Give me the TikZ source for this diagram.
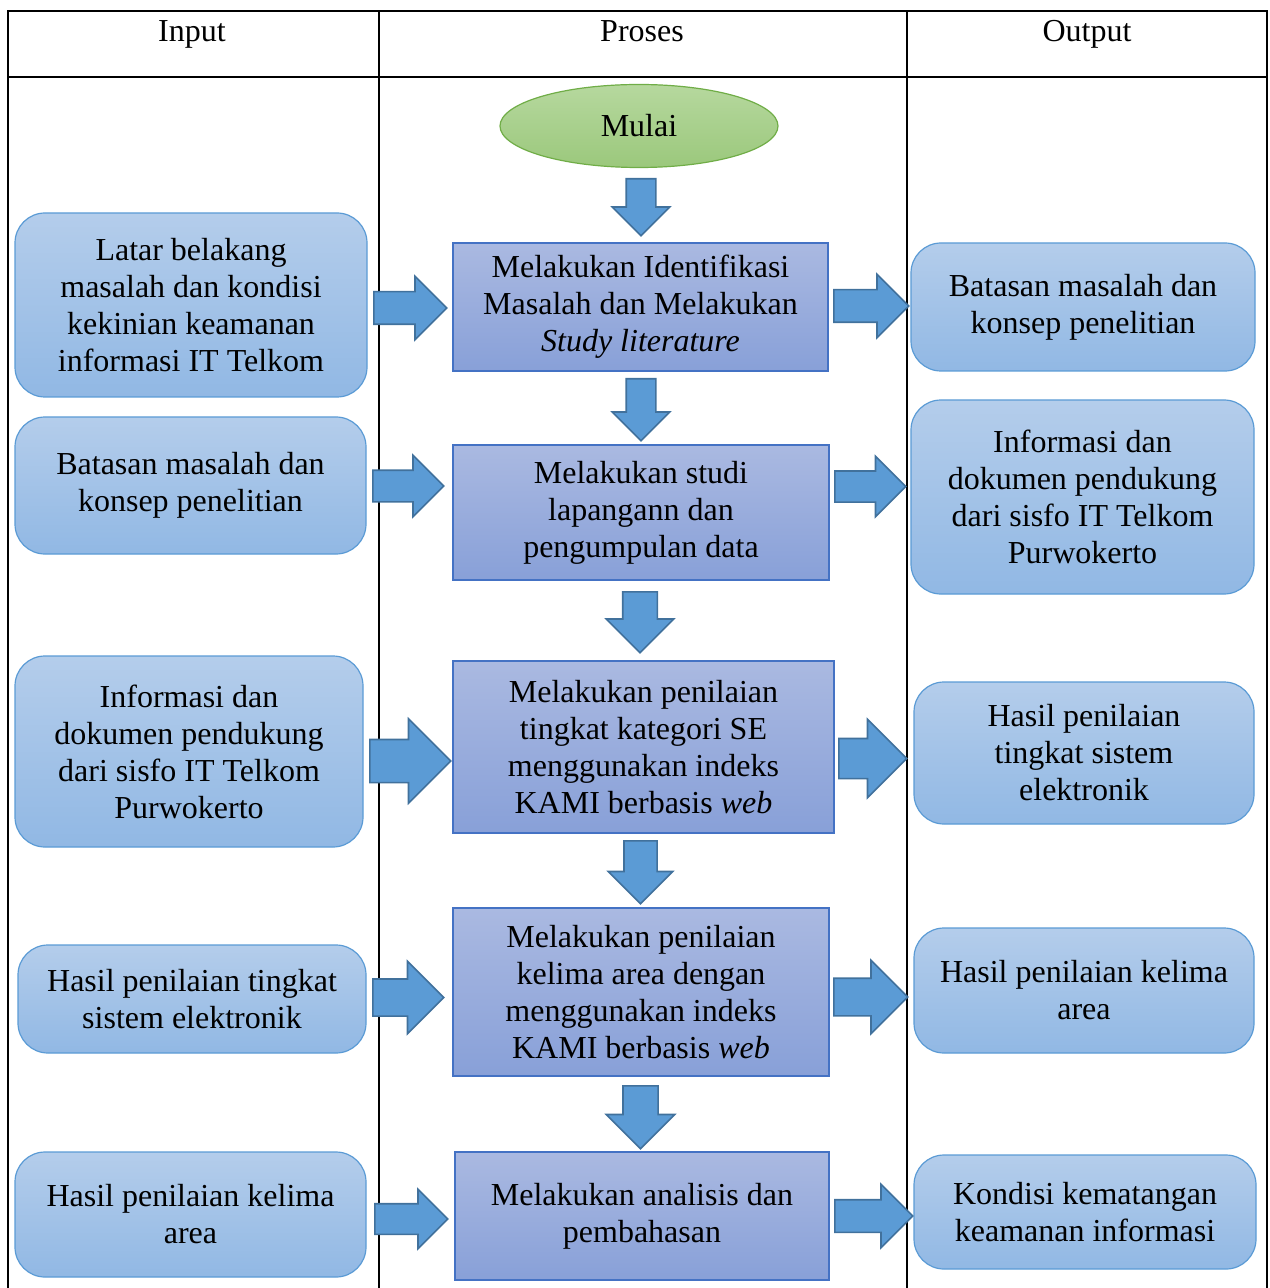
\documentclass[tikz,border=0pt]{standalone}
\usepackage{fontspec}
\setmainfont{Liberation Serif}
\usetikzlibrary{shapes.geometric,shapes.arrows}
\definecolor{procTop}{RGB}{170,185,225}
\definecolor{procBot}{RGB}{136,160,216}
\definecolor{procLine}{RGB}{68,114,196}
\definecolor{boxTop}{RGB}{180,205,235}
\definecolor{boxBot}{RGB}{145,184,228}
\definecolor{boxLine}{RGB}{91,155,213}
\definecolor{arrFill}{RGB}{91,155,213}
\definecolor{arrLine}{RGB}{65,113,156}
\definecolor{startTop}{RGB}{182,216,158}
\definecolor{startBot}{RGB}{155,200,124}
\definecolor{startLine}{RGB}{112,173,71}
\tikzset{
  sz/.style 2 args={minimum width=#1*0.5pt,minimum height=#2*0.5pt},
  proc/.style={draw=procLine,line width=0.6pt,top color=procTop,bottom color=procBot,
    align=center,inner sep=0pt},
  iobox/.style={draw=boxLine,line width=0.6pt,top color=boxTop,bottom color=boxBot,
    rounded corners=15pt,align=center,inner sep=0pt},
  blk/.style 2 args={single arrow,draw=arrLine,fill=arrFill,line width=0.8pt,
    inner xsep=0pt,inner ysep=#2*0.125pt,anchor=tail,
    minimum height=#1*0.5pt,minimum width=#2*0.5pt,single arrow head extend=#2*0.125pt},
  head/.style={inner sep=0pt,anchor=base}
}
\begin{document}
\begin{tikzpicture}[x=0.5pt,y=-0.5pt,font=\fontsize{16}{18.5}\selectfont]
\useasboundingbox (0,0) rectangle (1269,1288);
%
% --- Tabelle ---
\draw[line width=1pt] (8,1288) -- (8,11) -- (1267,11) -- (1267,1288);
\draw[line width=1pt] (8,77) -- (1267,77);
\draw[line width=1pt] (379,11) -- (379,1288);
\draw[line width=1pt] (907,11) -- (907,1288);
\node[head] (hIn)  at (192,42)  {Input};
\node[head] (hPro) at (642,42)  {Proses};
\node[head] (hOut) at (1087,42) {Output};
%
% --- Proses ---
\node[ellipse,draw=startLine,line width=0.6pt,top color=startTop,bottom color=startBot,
  sz={278}{83},inner sep=0pt] (mulai) at (639,126) {Mulai};
\node[proc,sz={375}{128}] (p1) at (640.5,307)
  {Melakukan Identifikasi\\Masalah dan Melakukan\\\textit{Study literature}};
\node[proc,sz={376}{135}] (p2) at (641,512.5)
  {Melakukan studi\\lapangann dan\\pengumpulan data};
\node[proc,sz={381}{172}] (p3) at (643.5,747)
  {Melakukan penilaian\\tingkat kategori SE\\menggunakan indeks\\KAMI berbasis \textit{web}};
\node[proc,sz={376}{168}] (p4) at (641,992)
  {Melakukan penilaian\\kelima area dengan\\menggunakan indeks\\KAMI berbasis \textit{web}};
\node[proc,sz={374}{128}] (p5) at (642,1216)
  {Melakukan analisis dan\\pembahasan};
%
% --- Input ---
\node[iobox,sz={352}{184}] (in1) at (191,305)
  {Latar belakang\\masalah dan kondisi\\kekinian keamanan\\informasi IT Telkom};
\node[iobox,sz={351}{137}] (in2) at (190.5,485.5)
  {Batasan masalah dan\\konsep penelitian};
\node[iobox,sz={348}{191}] (in3) at (189,751.5)
  {Informasi dan\\dokumen pendukung\\dari sisfo IT Telkom\\Purwokerto};
\node[iobox,sz={348}{108}] (in4) at (192,999)
  {Hasil penilaian tingkat\\sistem elektronik};
\node[iobox,sz={351}{125}] (in5) at (190.5,1214.5)
  {Hasil penilaian kelima\\area};
%
% --- Output ---
\node[iobox,sz={344}{128}] (out1) at (1083,307)
  {Batasan masalah dan\\konsep penelitian};
\node[iobox,sz={343}{194}] (out2) at (1082.5,497)
  {Informasi dan\\dokumen pendukung\\dari sisfo IT Telkom\\Purwokerto};
\node[iobox,sz={340}{142}] (out3) at (1084,753)
  {Hasil penilaian\\tingkat sistem\\elektronik};
\node[iobox,sz={340}{125}] (out4) at (1084,990.5)
  {Hasil penilaian kelima\\area};
\node[iobox,sz={342}{114}] (out5) at (1085,1212)
  {Kondisi kematangan\\keamanan informasi};
%
% --- Blockpfeile nach unten (Position = Schaftende) ---
\node[blk={57}{56},rotate=-90] (d1) at (641,178) {};
\node[blk={62}{56},rotate=-90] (d2) at (641,378) {};
\node[blk={61}{66},rotate=-90] (d3) at (640,591) {};
\node[blk={63}{63},rotate=-90] (d4) at (640.5,840) {};
\node[blk={63}{67},rotate=-90] (d5) at (640.5,1085) {};
%
% --- Blockpfeile Input -> Proses ---
\node[blk={73}{62}] (r1) at (373,308) {};
\node[blk={71}{60}] (r2) at (372,486) {};
\node[blk={81}{83}] (r3) at (369,761) {};
\node[blk={71}{71}] (r4) at (372,997.5) {};
\node[blk={73}{58}] (r5) at (374,1219) {};
%
% --- Blockpfeile Proses -> Output ---
\node[blk={75}{62}] (o1) at (833,306) {};
\node[blk={71}{59}] (o2) at (834,486.5) {};
\node[blk={68}{77}] (o3) at (838,758.5) {};
\node[blk={74}{72}] (o4) at (833,997) {};
\node[blk={78}{62}] (o5) at (834,1216) {};
\end{tikzpicture}
\end{document}
